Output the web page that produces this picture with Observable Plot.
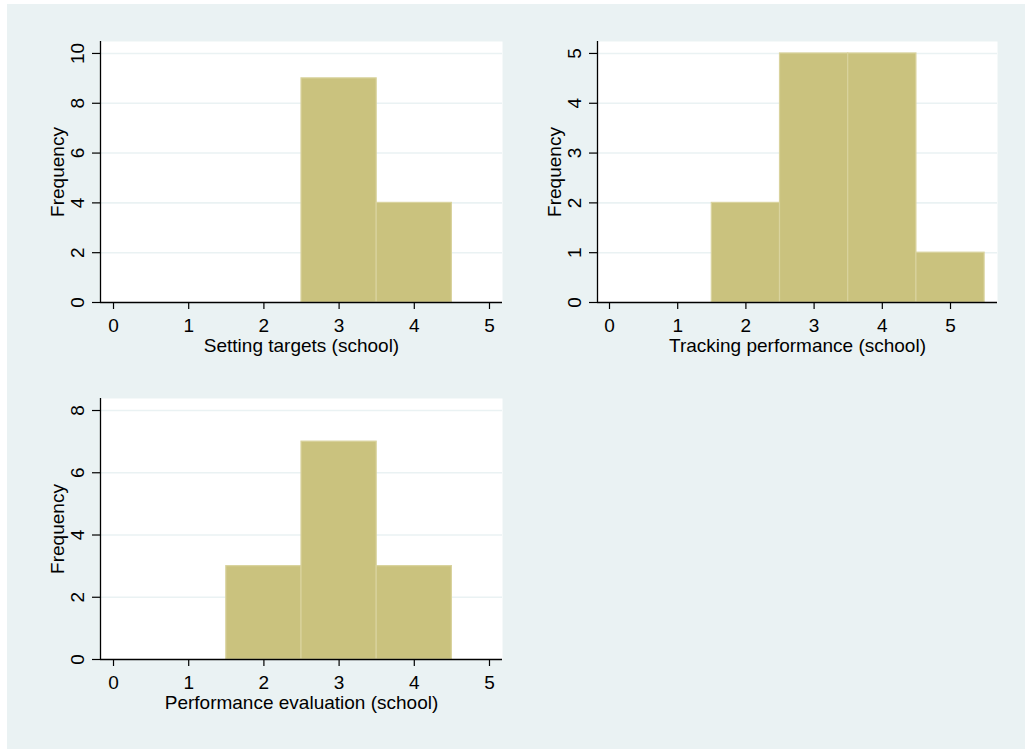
<!DOCTYPE html>
<html>
<head>
<meta charset="utf-8">
<script src="https://cdn.jsdelivr.net/npm/d3@7"></script>
<script src="https://cdn.jsdelivr.net/npm/@observablehq/plot@0.6"></script>
<style>
  html, body { margin: 0; padding: 0; background: #ffffff; }
  #page { position: relative; width: 1025px; height: 749px; overflow: hidden; background: #ffffff; }
  #bg { position: absolute; left: 7px; top: 4px; right: 0; bottom: 0; background: #EAF2F3; }
  .panel { position: absolute; }
</style>
</head>
<body>
<div id="page">
  <div id="bg"></div>
  <div class="panel" id="p1" style="left:0px;top:0px;"></div>
  <div class="panel" id="p2" style="left:512px;top:0px;"></div>
  <div class="panel" id="p3" style="left:0px;top:357px;"></div>
</div>
<script>
// ---- Data ----
const settingTargetsScores = [3, 4];
const settingTargetsFreq = [9, 4];
const trackingScores = [2, 3, 4, 5];
const trackingFreq = [2, 5, 5, 1];
const evaluationScores = [2, 3, 4];
const evaluationFreq = [3, 7, 3];

const xTicks = [0, 1, 2, 3, 4, 5];
const yTicksSetting = [0, 2, 4, 6, 8, 10];
const yTicksTracking = [0, 1, 2, 3, 4, 5];
const yTicksEvaluation = [0, 2, 4, 6, 8];

const xLabelSetting = "Setting targets (school)";
const xLabelTracking = "Tracking performance (school)";
const xLabelEvaluation = "Performance evaluation (school)";
const yLabel = "Frequency";

// ---- Styles ----
const FONT = "'Liberation Sans', Arial, Helvetica, sans-serif";
const FS = 19;
const BAR_FILL = "#CAC27E";
const BAR_STROKE = "#D9D39E";
const GRID = "#EAF2F3";

function histPanel({scores, freq, xDomain, yDomain, yTicks, xLabel, width, height, margins}) {
  const bins = scores.map((s, i) => ({score: s, count: freq[i]}));
  return Plot.plot({
    width, height,
    marginLeft: margins[0], marginRight: margins[1], marginTop: margins[2], marginBottom: margins[3],
    style: `background: transparent; overflow: visible; font-family: ${FONT}; font-size: ${FS}px;`,
    x: {domain: xDomain, axis: null},
    y: {domain: yDomain, axis: null},
    marks: [
      Plot.frame({fill: "white", stroke: "none"}),
      Plot.gridY(yTicks.filter(t => t > 0), {stroke: GRID, strokeOpacity: 1, strokeWidth: 1.6}),
      Plot.rectY(bins, {
        x1: d => d.score - 0.5, x2: d => d.score + 0.5, y1: 0, y2: "count",
        fill: BAR_FILL, stroke: BAR_STROKE, strokeWidth: 1.2, inset: 0
      }),
      Plot.ruleX([xDomain[0]], {stroke: "#000", strokeWidth: 1.3}),
      Plot.ruleY([0], {stroke: "#000", strokeWidth: 1.3}),
      Plot.axisY({ticks: yTicks, tickSize: 8, tickFormat: () => "", label: null, stroke: "#000", strokeWidth: 1.2}),
      Plot.axisX({ticks: xTicks, tickSize: 7, tickFormat: () => "", label: null, stroke: "#000", strokeWidth: 1.2}),
      Plot.text(yTicks, {
        y: d => d, text: d => String(d), frameAnchor: "left", dx: -23,
        rotate: -90, textAnchor: "middle", lineAnchor: "middle",
        fontSize: FS, fill: "#000"
      }),
      Plot.text(xTicks, {
        x: d => d, text: d => String(d), frameAnchor: "bottom", dy: 23,
        textAnchor: "middle", lineAnchor: "middle", fontSize: FS, fill: "#000"
      }),
      Plot.text([yLabel], {
        frameAnchor: "left", dx: -43, rotate: -90, textAnchor: "middle",
        lineAnchor: "middle", fontSize: FS, fill: "#000"
      }),
      Plot.text([xLabel], {
        frameAnchor: "bottom", dy: 43, textAnchor: "middle",
        lineAnchor: "middle", fontSize: FS, fill: "#000"
      })
    ]
  });
}

document.getElementById("p1").appendChild(histPanel({
  scores: settingTargetsScores, freq: settingTargetsFreq,
  xDomain: [-0.173, 5.173], yDomain: [0, 10.48], yTicks: yTicksSetting,
  xLabel: xLabelSetting, width: 512, height: 370, margins: [100, 10, 41, 68]
}));
document.getElementById("p2").appendChild(histPanel({
  scores: trackingScores, freq: trackingFreq,
  xDomain: [-0.176, 5.689], yDomain: [0, 5.24], yTicks: yTicksTracking,
  xLabel: xLabelTracking, width: 513, height: 370, margins: [85, 28, 41, 68]
}));
document.getElementById("p3").appendChild(histPanel({
  scores: evaluationScores, freq: evaluationFreq,
  xDomain: [-0.173, 5.173], yDomain: [0, 8.386], yTicks: yTicksEvaluation,
  xLabel: xLabelEvaluation, width: 512, height: 392, margins: [100, 10, 41, 90]
}));
</script>
</body>
</html>
